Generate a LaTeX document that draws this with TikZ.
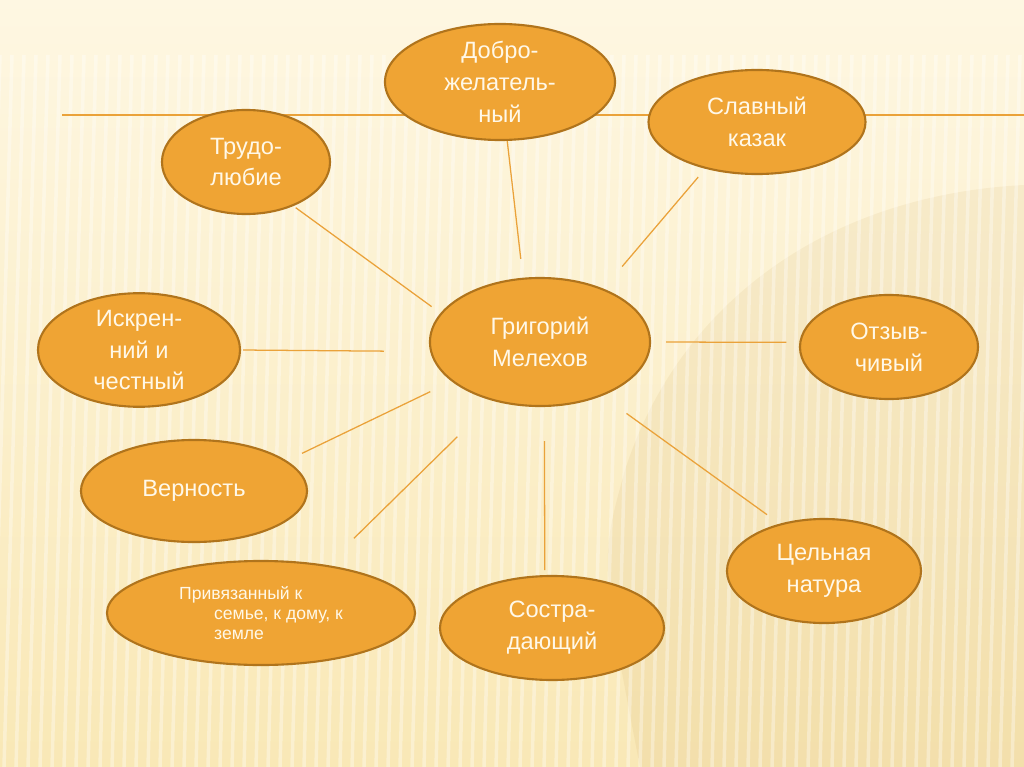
\documentclass[tikz,border=0pt]{standalone}
\usepackage{fontspec}
\setmainfont{Liberation Sans}
\usetikzlibrary{shapes.geometric}
\definecolor{fon}{RGB}{254,247,226}
\definecolor{fonlow}{RGB}{249,232,182}
\definecolor{oranzh}{RGB}{239,164,52}
\definecolor{kant}{RGB}{176,116,28}
\definecolor{liniya}{RGB}{234,162,58}
\definecolor{bukvy}{RGB}{255,248,232}
\tikzset{
  oval/.style={ellipse, draw=kant, line width=1.5pt, fill=oranzh, text=bukvy,
    align=center, inner sep=0pt, outer sep=0pt,
    font=\fontsize{16.8}{22.7}\selectfont},
  luch/.style={draw=liniya, line width=0.9pt},
}
\begin{document}
\begin{tikzpicture}[x=0.025cm, y=-0.025cm]
  \useasboundingbox (0,0) rectangle (1024,767);
  \shade[top color=fon, bottom color=fonlow] (0,0) rectangle (1024,767);
  \fill[kant, opacity=.07] (1024,185) .. controls (830,195) and (680,300) .. (625,470)
    .. controls (600,560) .. (640,767) -- (1024,767) -- cycle;
  \foreach \x in {0,12,...,1040}
    \draw[white, opacity=.35, line width=2.5pt] (\x,55) -- (\x-20,767);
  \draw[liniya, line width=1.5pt] (62,115) -- (1024,115);

  \node[oval, minimum width=5.75cm, minimum height=2.9cm] (dobro) at (500,82) {Добро-\\желатель-\\ный};
  \node[oval, minimum width=5.425cm, minimum height=2.6cm] (slav) at (757,122) {Славный\\казак};
  \node[oval, minimum width=4.2cm, minimum height=2.6cm] (trud) at (246,162) {Трудо-\\любие};
  \node[oval, minimum width=5.5cm, minimum height=3.2cm] (grig) at (540,342) {Григорий\\Мелехов};
  \node[oval, minimum width=5.05cm, minimum height=2.8cm] (iskr) at (139,350) {Искрен-\\ний и\\честный};
  \node[oval, minimum width=4.45cm, minimum height=2.6cm] (otz) at (889,347) {Отзыв-\\чивый};
  \node[oval, minimum width=5.65cm, minimum height=2.55cm] (vern) at (194,491) {Верность};
  \node[oval, minimum width=4.85cm, minimum height=2.6cm] (cel) at (824,571) {Цельная\\натура};
  \node[oval, minimum width=5.6cm, minimum height=2.6cm] (sost) at (552,628) {Состра-\\дающий};
  \node[oval, minimum width=7.7cm, minimum height=2.6cm, align=left,
    font=\fontsize{12.5}{14.2}\selectfont] (priv) at (261,613)
    {Привязанный к\\\hspace*{0.875cm}семье, к дому, к\\\hspace*{0.875cm}земле};

  \begin{scope}[luch]
    \draw[shorten <=0.1cm, shorten >=0.3cm] (trud.-43) -- (grig.164);
    \draw[shorten <=0.03cm, shorten >=0.5cm] (dobro.-83) -- (grig.105);
    \draw[shorten <=0.3cm, shorten >=0.75cm] (slav.-138) -- (grig.40);
    \draw[shorten <=0.08cm, shorten >=1.18cm] (iskr.-0.5) -- (grig.185);
    \draw[shorten <=0.35cm, shorten >=0.4cm] (otz.177.4) -- (grig.-0.5);
    \draw[shorten <=0.45cm, shorten >=0.62cm] (vern.18) -- (grig.204);
    \draw[shorten <=0.98cm, shorten >=1.3cm] (priv.36) -- (grig.232);
    \draw[shorten <=0.15cm, shorten >=0.88cm] (sost.98.7) -- (grig.-86.4);
    \draw[shorten <=0.42cm, shorten >=0.78cm] (cel.133) -- (grig.-41);
  \end{scope}
\end{tikzpicture}
\end{document}
